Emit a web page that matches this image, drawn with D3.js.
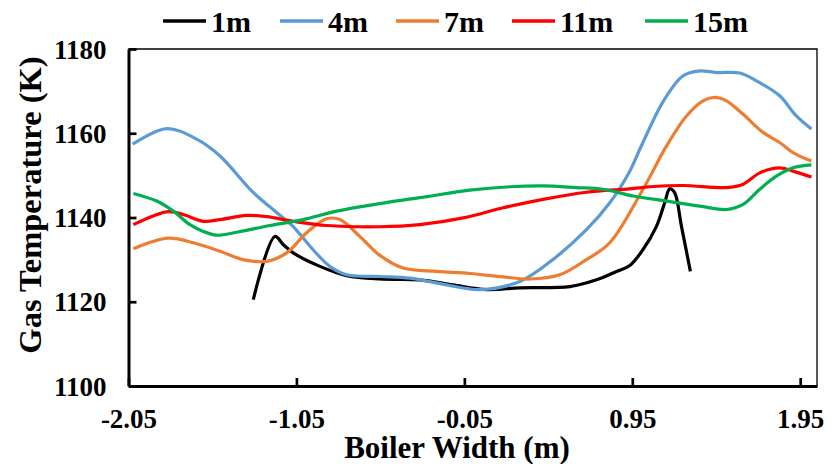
<!DOCTYPE html>
<html>
<head>
<meta charset="utf-8">
<script src="https://cdn.jsdelivr.net/npm/d3@7/dist/d3.min.js"></script>
<style>
  body { margin: 0; background: #fff; }
  text { font-family: "Liberation Serif", "Times New Roman", serif; font-weight: bold; fill: #000; }
</style>
</head>
<body>
<svg id="chart" width="840" height="464"></svg>
<script>
// Boiler width (m) / gas temperature (K), one pair of arrays per height
var x1m = [-1.307, -1.178, -1.129, -1.069, -0.910, -0.751, -0.553, -0.315, -0.118, 0.082, 0.280,
  0.578, 0.737, 0.856, 0.935, 1.014, 1.094, 1.143, 1.173, 1.202, 1.243, 1.296];
var t1m = [1120.5, 1135.5, 1133.6, 1131.6, 1128.4, 1126.2, 1125.4, 1125.2, 1124.0, 1122.9, 1123.3,
  1123.6, 1125.2, 1127.2, 1128.6, 1132.4, 1137.9, 1143.5, 1146.8, 1145.9, 1137.9, 1127.2];

var x4m = [-2.025, -1.823, -1.644, -1.505, -1.309, -1.168, -1.071, -0.952, -0.851, -0.751, -0.553,
  -0.374, -0.156, 0.042, 0.280, 0.477, 0.677, 0.816, 0.935, 0.995, 1.132, 1.251, 1.352, 1.451,
  1.590, 1.709, 1.828, 1.927, 2.017];
var t4m = [1157.4, 1161.1, 1158.6, 1154.6, 1146.0, 1141.2, 1137.9, 1132.4, 1128.4, 1126.4, 1126.0,
  1125.6, 1124.0, 1122.9, 1124.8, 1130.0, 1137.1, 1143.5, 1151.0, 1156.2, 1167.4, 1173.6, 1174.8,
  1174.4, 1174.3, 1172.0, 1168.9, 1164.1, 1161.0];

var x7m = [-2.021, -1.813, -1.664, -1.505, -1.367, -1.227, -1.108, -0.989, -0.870, -0.791, -0.672,
  -0.553, -0.414, -0.215, -0.017, 0.181, 0.340, 0.518, 0.677, 0.816, 1.014, 1.154, 1.273, 1.371,
  1.441, 1.511, 1.610, 1.729, 1.828, 1.907, 2.017];
var t7m = [1132.6, 1135.1, 1134.0, 1132.0, 1130.0, 1129.6, 1131.6, 1136.4, 1139.7, 1139.5, 1135.5,
  1131.0, 1128.0, 1127.2, 1126.7, 1125.9, 1125.4, 1126.4, 1130.0, 1134.0, 1146.7, 1157.0, 1164.1,
  1167.7, 1168.5, 1167.7, 1164.5, 1160.2, 1157.8, 1155.4, 1153.4];

var x11m = [-2.021, -1.813, -1.724, -1.605, -1.505, -1.346, -1.227, -1.069, -0.870, -0.553, -0.315,
  -0.057, 0.181, 0.419, 0.677, 0.935, 1.054, 1.252, 1.511, 1.610, 1.709, 1.828, 1.907, 2.017];
var t11m = [1138.3, 1141.4, 1140.7, 1139.1, 1139.5, 1140.5, 1140.2, 1139.1, 1138.1, 1137.8, 1138.3,
  1139.9, 1142.3, 1144.3, 1146.0, 1146.8, 1147.3, 1147.6, 1147.1, 1147.9, 1150.6, 1151.8, 1151.0,
  1149.6];

var x15m = [-2.021, -1.882, -1.783, -1.684, -1.605, -1.525, -1.406, -1.208, -1.010, -0.811, -0.553,
  -0.315, -0.017, 0.221, 0.419, 0.618, 0.776, 0.955, 1.154, 1.352, 1.511, 1.610, 1.709, 1.808,
  1.907, 2.017];
var t15m = [1145.7, 1143.9, 1141.5, 1138.3, 1136.7, 1135.8, 1136.5, 1138.1, 1139.5, 1141.5, 1143.3,
  1144.7, 1146.5, 1147.3, 1147.5, 1147.1, 1146.7, 1145.1, 1143.9, 1142.7, 1141.9, 1143.1, 1146.7,
  1149.8, 1151.8, 1152.5];

var seriesNames = ["1m", "4m", "7m", "11m", "15m"];
var seriesColors = ["#000000", "#5B9BD5", "#ED7D31", "#FF0000", "#00B050"];
var xTicks = [-2.05, -1.05, -0.05, 0.95, 1.95];
var yTicks = [1100, 1120, 1140, 1160, 1180];

(function () {
  "use strict";

  var svg = d3.select("#chart"),
    mLeft = 128.5, mRight = 817, mTop = 49, mBottom = 386,
    x = d3.scaleLinear().domain([-2.05, 2.05]).range([mLeft, mRight]),
    y = d3.scaleLinear().domain([1100, 1180]).range([mBottom, mTop]),
    series = [
      {xs: x1m, ts: t1m}, {xs: x4m, ts: t4m}, {xs: x7m, ts: t7m},
      {xs: x11m, ts: t11m}, {xs: x15m, ts: t15m}
    ],
    line = d3.line()
      .x(function (d) { return x(d[0]); })
      .y(function (d) { return y(d[1]); })
      .curve(d3.curveCatmullRom.alpha(0.5)),
    fmtX = function (v) { return d3.format(".2f")(v).replace("\u2212", "-"); },
    xAxis, yAxis, legend,
    legendX = [163, 280, 396, 512, 645];

  // thin frame on top and right
  svg.append("path")
    .attr("d", "M" + mLeft + "," + mTop + "H" + mRight + "V" + mBottom)
    .attr("fill", "none")
    .attr("stroke", "#000")
    .attr("stroke-width", 1.3);

  // curves
  series.forEach(function (s, i) {
    svg.append("path")
      .datum(d3.zip(s.xs, s.ts))
      .attr("fill", "none")
      .attr("stroke", seriesColors[i])
      .attr("stroke-width", 3.2)
      .attr("stroke-linejoin", "round")
      .attr("d", line);
  });

  // axes, ticks pointing inward like the original
  xAxis = svg.append("g")
    .attr("transform", "translate(0," + mBottom + ")")
    .call(d3.axisBottom(x).tickValues(xTicks).tickFormat(fmtX)
      .tickSizeInner(-8).tickSizeOuter(0).tickPadding(20));
  yAxis = svg.append("g")
    .attr("transform", "translate(" + mLeft + ",0)")
    .call(d3.axisLeft(y).tickValues(yTicks).tickFormat(d3.format("d"))
      .tickSizeInner(-8).tickSizeOuter(0).tickPadding(22));

  [xAxis, yAxis].forEach(function (g) {
    g.select(".domain").attr("stroke", "#000").attr("stroke-width", 3);
    g.selectAll(".tick line").attr("stroke", "#000").attr("stroke-width", 2.7);
    g.selectAll(".tick text").attr("fill", "#000").style("font-size", "27px");
  });
  xAxis.selectAll(".tick text").attr("y", 42).attr("dy", null);
  yAxis.selectAll(".tick text").attr("dy", "0.34em");

  // axis titles
  svg.append("text")
    .attr("x", 457).attr("y", 458)
    .attr("text-anchor", "middle")
    .style("font-size", "31px")
    .text("Boiler Width (m)");
  svg.append("text")
    .attr("transform", "translate(41,205) rotate(-90)")
    .attr("text-anchor", "middle")
    .style("font-size", "32.5px")
    .text("Gas Temperature (K)");

  // legend along the top
  legend = svg.append("g").selectAll("g")
    .data(seriesNames)
    .enter().append("g")
    .attr("transform", function (d, i) { return "translate(" + legendX[i] + ",21)"; });
  legend.append("line")
    .attr("x1", 0).attr("x2", 43)
    .attr("stroke", function (d, i) { return seriesColors[i]; })
    .attr("stroke-width", 3.5);
  legend.append("text")
    .attr("x", 48).attr("y", 11)
    .style("font-size", "30px")
    .text(function (d) { return d; });
}());
</script>
</body>
</html>
